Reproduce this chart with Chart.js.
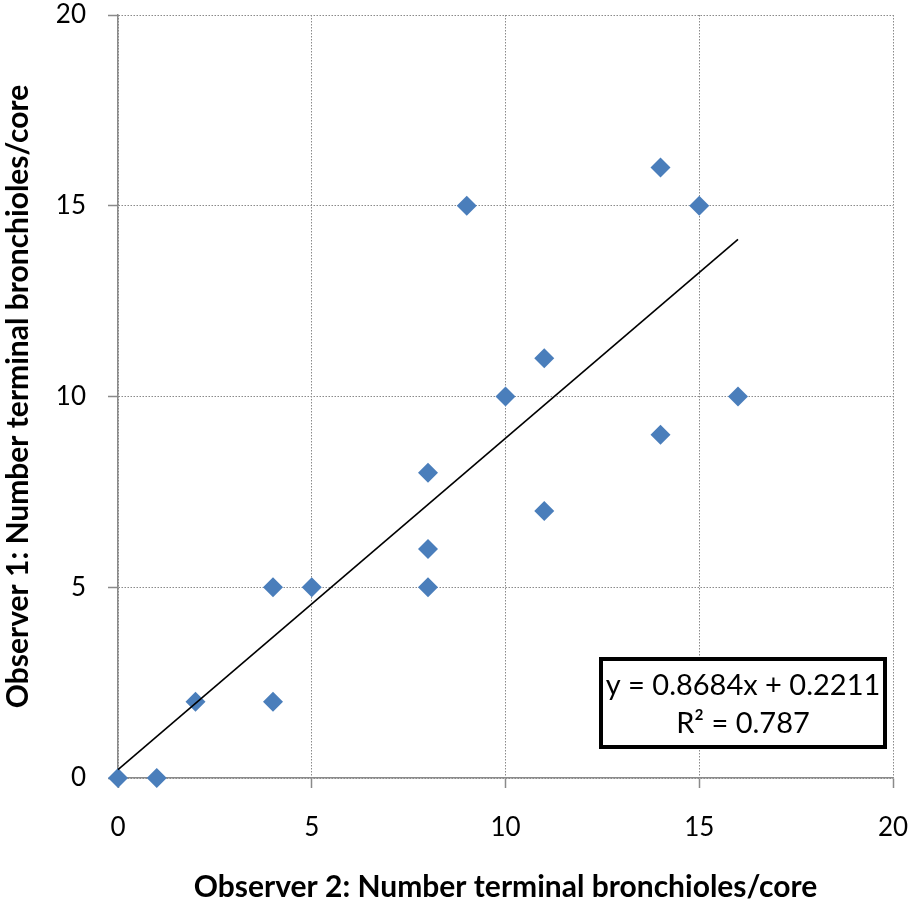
<!DOCTYPE html>
<html>
<head>
<meta charset="utf-8">
<script src="https://cdn.jsdelivr.net/npm/chart.js@4/dist/chart.umd.min.js"></script>
<style>
    html, body { margin: 0; padding: 0; background: #fff; }
    canvas { display: block; }
</style>
</head>
<body>
<canvas id="chart" width="911" height="906"></canvas>
<script>
// observer 2 (x) vs observer 1 (y)
const observer2 = [0, 1, 2, 4, 4, 5, 8, 8, 8, 9, 10, 11, 11, 14, 14, 15, 16];
const observer1 = [0, 0, 2, 2, 5, 5, 5, 6, 8, 15, 10, 11, 7, 16, 9, 15, 10];

// linear trendline as drawn (ends)
const trendX = [0, 16];
const trendY = [0.22, 14.12];
const trendLabel = ['y = 0.8684x + 0.2211', 'R² = 0.787'];

const axisTicks = [0, 5, 10, 15, 20];

const gridColor = '#8a8a8a';
const markerColor = '#4a7ebb';

// 方框：回歸式
const equationBox = {
    id: 'equationBox',
    afterDraw(chart) {
        const ctx = chart.ctx;
        const x = 601, y = 659, w = 284, h = 88;
        ctx.save();
        ctx.fillStyle = '#fff';
        ctx.fillRect(x, y, w, h);
        ctx.lineWidth = 4;
        ctx.strokeStyle = '#000';
        ctx.strokeRect(x, y, w, h);
        ctx.fillStyle = '#000';
        ctx.font = '29px Lato';
        ctx.textAlign = 'center';
        ctx.textBaseline = 'middle';
        ctx.fillText(trendLabel[0], x + w / 2, y + 27);
        ctx.fillText(trendLabel[1], x + w / 2, y + 65);
        ctx.restore();
    }
};

// 固定繪圖區：不讓刻度標籤撐開邊距
function fixX(s) { s.height = 128; s.paddingLeft = 0; s.paddingRight = 0; }
function fixY(s) { s.width = 118; s.paddingTop = 0; s.paddingBottom = 0; }

new Chart(document.getElementById('chart'), {
    type: 'scatter',
    data: {
        datasets: [
            {
                type: 'line',
                data: trendX.map((x, i) => ({ x: x, y: trendY[i] })),
                borderColor: '#000',
                borderWidth: 1.6,
                pointRadius: 0,
                fill: false,
                clip: false,
                order: 0
            },
            {
                data: observer2.map((x, i) => ({ x: x, y: observer1[i] })),
                pointStyle: 'rectRot',
                pointRadius: 10,
                backgroundColor: markerColor,
                borderColor: markerColor,
                borderWidth: 0,
                clip: false,
                order: 1
            }
        ]
    },
    options: {
        responsive: false,
        animation: false,
        layout: { padding: { top: 15, right: 18, left: 0, bottom: 0 } },
        plugins: { legend: { display: false }, tooltip: { enabled: false } },
        scales: {
            x: {
                type: 'linear',
                min: 0,
                max: 20,
                afterFit: fixX,
                afterBuildTicks: s => { s.ticks = axisTicks.map(v => ({ value: v })); },
                ticks: { color: '#000', padding: 24, font: { family: 'Lato', size: 26 } },
                grid: { color: gridColor, lineWidth: 1, tickLength: 10, tickColor: gridColor, tickWidth: 1.5 },
                border: { color: gridColor, width: 1.5, dash: [1.5, 1.5] },
                title: {
                    display: true,
                    text: 'Observer 2: Number terminal bronchioles/core',
                    color: '#000',
                    font: { family: 'Lato', size: 30, weight: 'bold' },
                    padding: { top: 0, bottom: 1 }
                }
            },
            y: {
                type: 'linear',
                min: 0,
                max: 20,
                afterFit: fixY,
                afterBuildTicks: s => { s.ticks = axisTicks.map(v => ({ value: v })); },
                ticks: { color: '#000', padding: 22, font: { family: 'Lato', size: 26 } },
                grid: { color: gridColor, lineWidth: 1, tickLength: 10, tickColor: gridColor, tickWidth: 1.5 },
                border: { color: gridColor, width: 1.5, dash: [1.5, 1.5] },
                title: {
                    display: true,
                    text: 'Observer 1: Number terminal bronchioles/core',
                    color: '#000',
                    font: { family: 'Lato', size: 30, weight: 'bold' },
                    padding: { top: 0, bottom: 0 }
                }
            }
        }
    },
    plugins: [equationBox]
});
</script>
</body>
</html>
